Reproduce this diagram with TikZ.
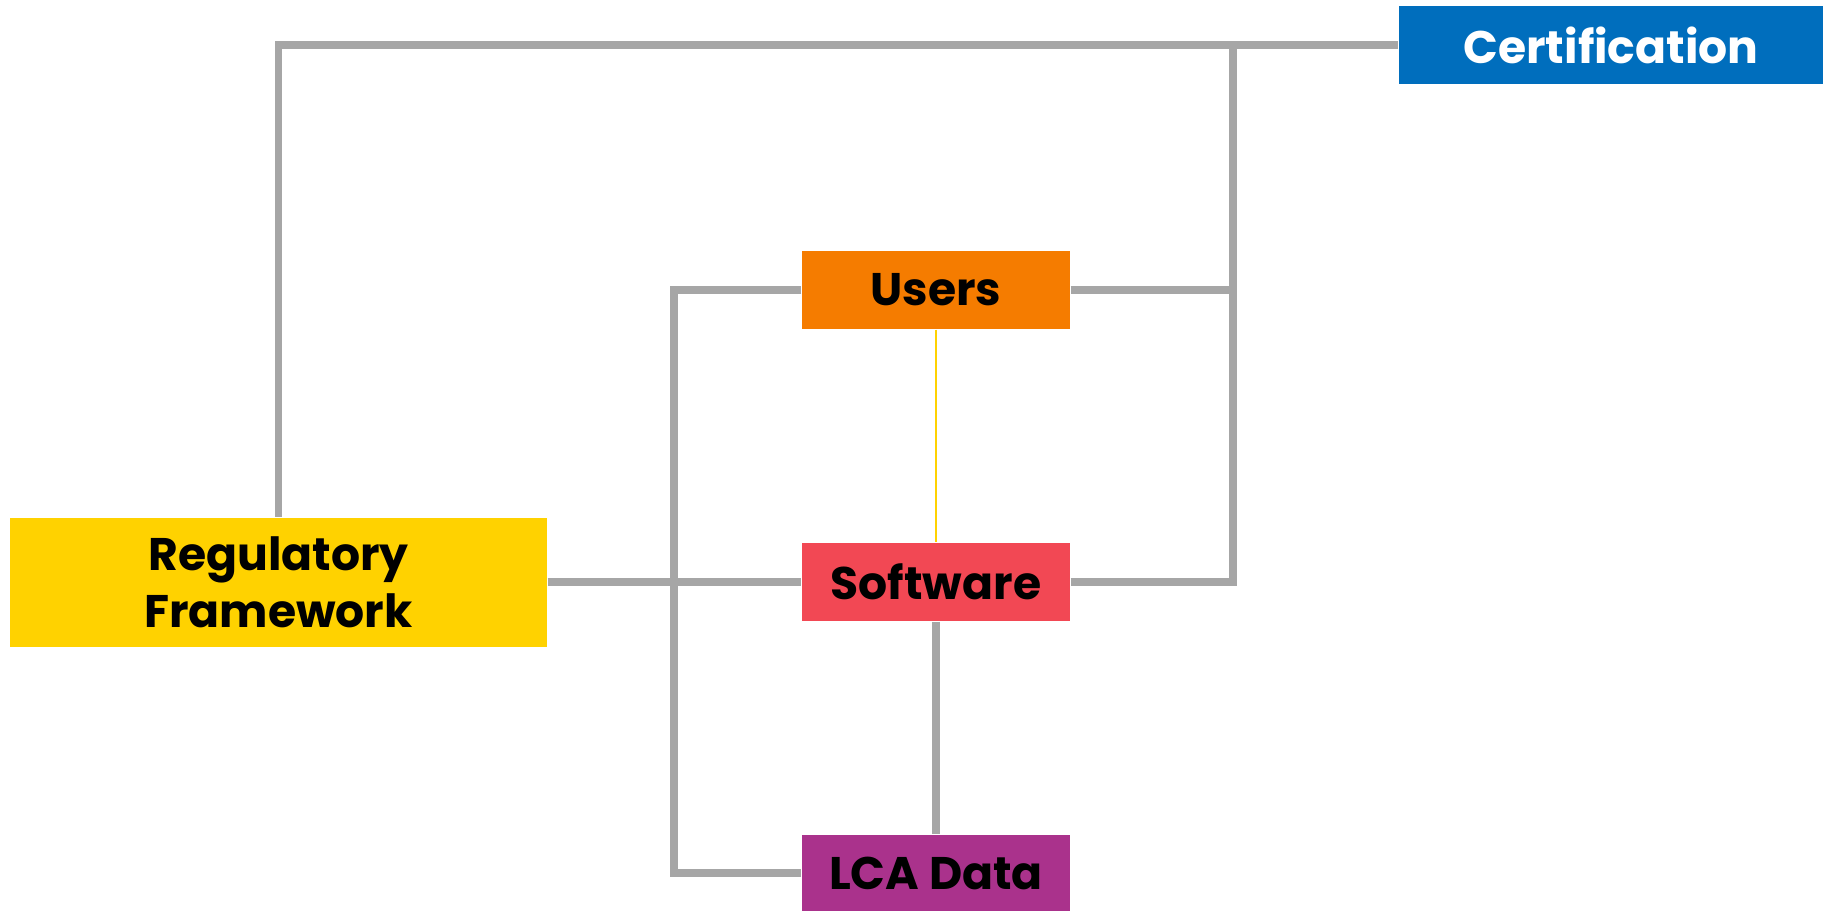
\documentclass[tikz,border=0pt]{standalone}
\usepackage{fontspec}
\newfontfamily\boxfont{Poppins}

\definecolor{certblue}{RGB}{0,110,189}
\definecolor{userorange}{RGB}{245,124,0}
\definecolor{softred}{RGB}{242,72,84}
\definecolor{lcapurple}{RGB}{170,50,140}
\definecolor{regyellow}{RGB}{255,210,0}
\definecolor{linkgray}{RGB}{166,166,166}

\begin{document}
\begin{tikzpicture}[
    every node/.style={font=\boxfont\bfseries\fontsize{13}{16.3}\selectfont},
    block/.style={inner sep=0pt, align=center, text=black},
    link/.style={draw=linkgray, line width=2pt},
  ]
  \useasboundingbox (0,0) rectangle (18.23,9.11);

  % blocks
  \node[block, fill=certblue, text=white, minimum width=4.24cm, minimum height=0.78cm] (cert) at (16.11,8.66) {Certification};
  \node[block, fill=userorange, minimum width=2.68cm, minimum height=0.78cm] (users) at (9.36,6.21) {Users};
  \node[block, fill=softred, minimum width=2.68cm, minimum height=0.78cm] (soft) at (9.36,3.29) {Software};
  \node[block, fill=lcapurple, minimum width=2.68cm, minimum height=0.76cm] (lca) at (9.36,0.38) {LCA Data};
  \node[block, fill=regyellow, minimum width=5.37cm, minimum height=1.29cm] (reg) at (2.785,3.29) {Regulatory\\Framework};

  % bus lines
  \coordinate (rbus) at (12.33,8.66);
  \coordinate (lbus) at (6.74,0);

  % connectors
  \draw[link] (reg.north) |- (cert.west);
  \draw[link] (soft.east) -| (rbus);
  \draw[link] (users.east) -- (users.east -| rbus);
  \draw[link] (users.west) -| (lbus |- lca.west) -- (lca.west);
  \draw[link] (reg.east) -- (soft.west);
  \draw[link] (soft.south) -- (lca.north);
  \draw[draw=regyellow, line width=0.4pt] (users.south) -- (soft.north);
\end{tikzpicture}
\end{document}
